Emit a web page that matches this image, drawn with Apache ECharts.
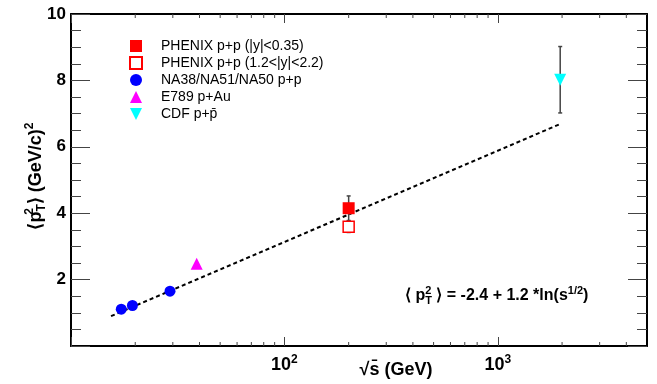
<!DOCTYPE html>
<html>
<head>
<meta charset="utf-8">
<script src="https://cdn.jsdelivr.net/npm/echarts@6/dist/echarts.min.js"></script>
</head>
<body style="margin:0">
<div id="container" style="width:657px;height:384px"></div>
<script>
// values
var phenixMidX = [200], phenixMidY = [4.15], phenixMidErr = [0.37];
var phenixFwdX = [200], phenixFwdY = [3.59], phenixFwdErr = [0.17];
var naX = [17.2, 19.4, 29.1], naY = [1.11, 1.22, 1.65];
var e789X = [38.8], e789Y = [2.48];
var cdfX = [1960], cdfY = [8.02], cdfErr = [1.0];
// dashed fit <pT2> = -2.4 + 1.2 ln(sqrt s), straight on a log axis: two ends
var fitX = [15.4, 1950], fitY = [0.90, 6.68];
var xMajorTicks = [10, 100, 1000];
var xLabelTicks = [100, 1000];
var xMinorTicks = [20, 30, 40, 50, 60, 70, 80, 90, 200, 300, 400, 500, 600, 700, 800, 900, 2000, 3000, 4000];

var F = "'Liberation Sans', Arial, Helvetica, sans-serif";
var downTriangle = 'path://M0,0L12,0L6,12Z';

function zip(xs, ys, es) {
    return xs.map(function (x, i) { return es ? [x, ys[i], es[i]] : [x, ys[i]]; });
}

function renderErr(params, api) {
    var x = api.value(0), y = api.value(1), e = api.value(2);
    var t = api.coord([x, y + e]);
    var b = api.coord([x, y - e]);
    var st = {stroke: '#444', lineWidth: 1.5};
    return {type: 'group', children: [
        {type: 'line', shape: {x1: t[0], y1: t[1], x2: b[0], y2: b[1]}, style: st},
        {type: 'line', shape: {x1: t[0] - 2, y1: t[1], x2: t[0] + 2, y2: t[1]}, style: st},
        {type: 'line', shape: {x1: b[0] - 2, y1: b[1], x2: b[0] + 2, y2: b[1]}, style: st}
    ]};
}

function renderMinor(params, api) {
    var v = api.value(0);
    var b = api.coord([v, 0]);
    var t = api.coord([v, 10]);
    var st = {stroke: '#444', lineWidth: 1};
    return {type: 'group', children: [
        {type: 'line', shape: {x1: b[0], y1: b[1], x2: b[0], y2: b[1] - 4}, style: st},
        {type: 'line', shape: {x1: t[0], y1: t[1], x2: t[0], y2: t[1] + 4}, style: st}
    ]};
}

var subRich = {
    b: {fontSize: 18, fontWeight: 'bold', fontFamily: F, lineHeight: 24},
    s0: {fontSize: 12, fontWeight: 'bold', fontFamily: F, lineHeight: 12, verticalAlign: 'top', width: 0},
    sub: {fontSize: 12, fontWeight: 'bold', fontFamily: F, lineHeight: 12, verticalAlign: 'bottom'},
    sup: {fontSize: 12, fontWeight: 'bold', fontFamily: F, lineHeight: 12, verticalAlign: 'top'}
};
var fRich = {
    b: {fontSize: 16, fontWeight: 'bold', fontFamily: F, lineHeight: 21},
    s0: {fontSize: 11, fontWeight: 'bold', fontFamily: F, lineHeight: 11, verticalAlign: 'top', width: 0},
    sub: {fontSize: 11, fontWeight: 'bold', fontFamily: F, lineHeight: 11, verticalAlign: 'bottom'},
    sup: {fontSize: 11, fontWeight: 'bold', fontFamily: F, lineHeight: 11, verticalAlign: 'top'}
};

function xAxisDef(pos, showLabel) {
    return {
        type: 'log', logBase: 10, min: 10, max: 5000, position: pos,
        axisLine: {show: true, onZero: false, lineStyle: {color: '#000', width: 2}},
        axisTick: {show: true, inside: true, length: 9, customValues: xMajorTicks, lineStyle: {color: '#444', width: 1}},
        splitLine: {show: false},
        axisLabel: {
            show: showLabel, margin: 8, color: '#000',
            customValues: xLabelTicks,
            formatter: function (v) {
                return '{b|10}{sup|' + Math.round(Math.log10(v)) + '}';
            },
            rich: {
                b: {fontSize: 18, fontWeight: 'bold', fontFamily: F, lineHeight: 22, color: '#000'},
                sup: {fontSize: 12, fontWeight: 'bold', fontFamily: F, lineHeight: 12, verticalAlign: 'top', color: '#000'}
            }
        }
    };
}

function yAxisDef(pos, showLabel) {
    return {
        type: 'value', min: 0, max: 10, interval: 2, position: pos,
        axisLine: {show: true, onZero: false, lineStyle: {color: '#000', width: 2}},
        axisTick: {show: true, inside: true, length: 19, lineStyle: {color: '#444', width: 1}},
        minorTick: {show: true, splitNumber: 4, length: 10, lineStyle: {color: '#444', width: 1}},
        splitLine: {show: false},
        minorSplitLine: {show: false},
        axisLabel: {
            show: showLabel, margin: 5, color: '#000', fontSize: 17, fontWeight: 'bold', fontFamily: F,
            showMaxLabel: true,
            formatter: function (v) { return v === 0 ? '' : String(v); }
        }
    };
}

var names = ['PHENIX p+p (|y|<0.35)', 'PHENIX p+p (1.2<|y|<2.2)', 'NA38/NA51/NA50 p+p', 'E789 p+Au', 'CDF p+p\u0304'];

var myChart = echarts.init(document.getElementById('container'));
var option = {
    backgroundColor: '#fff',
    animation: false,
    grid: {left: 71, right: 10, top: 14, bottom: 38, outerBoundsMode: 'none', containLabel: false},
    xAxis: [xAxisDef('bottom', true), xAxisDef('top', false)],
    yAxis: [yAxisDef('left', true), yAxisDef('right', false)],
    legend: {
        orient: 'vertical', left: 129, top: 39, padding: 0,
        itemWidth: 12, itemHeight: 12, itemGap: 3,
        textStyle: {fontSize: 14, color: '#000', fontFamily: F, padding: [0, 0, 0, 14]},
        data: [
            {name: names[0]},
            {name: names[1]},
            {name: names[2]},
            {name: names[3]},
            {name: names[4], icon: downTriangle}
        ]
    },
    graphic: [
        {type: 'text', x: 36, y: 176, rotation: Math.PI / 2,
         style: {text: '{b|\u27e8p}{s0|2}{sub|T}{b|\u27e9 (GeV/c)}{sup|2}', align: 'center', verticalAlign: 'middle', fill: '#000', rich: subRich}},
        {type: 'text', x: 396, y: 370,
         style: {text: '\u221as\u0304 (GeV)', align: 'center', verticalAlign: 'middle', fill: '#000', font: 'bold 18px ' + F}},
        {type: 'text', x: 405, y: 296,
         style: {text: '{b|\u27e8 p}{s0|2}{sub|T}{b| \u27e9 = -2.4 + 1.2 *ln(s}{sup|1/2}{b|)}', align: 'left', verticalAlign: 'middle', fill: '#000', rich: fRich}}
    ],
    series: [
        {type: 'custom', name: 'minor', renderItem: renderMinor, data: xMinorTicks.map(function (v) { return [v, 0]; }), z: 1, silent: true, clip: false},
        {type: 'line', name: 'fit', data: zip(fitX, fitY), symbol: 'none', z: 2,
         lineStyle: {color: '#000', width: 2, type: [4, 3]}},
        {type: 'custom', name: 'err', renderItem: renderErr, z: 3, silent: true,
         data: zip(phenixMidX, phenixMidY, phenixMidErr).concat(zip(phenixFwdX, phenixFwdY, phenixFwdErr), zip(cdfX, cdfY, cdfErr))},
        {type: 'scatter', name: names[0], data: zip(phenixMidX, phenixMidY), symbol: 'rect', symbolSize: 12, z: 5,
         itemStyle: {color: '#ff0000', opacity: 1}},
        {type: 'scatter', name: names[1], data: zip(phenixFwdX, phenixFwdY), symbol: 'rect', symbolSize: 11, z: 5,
         itemStyle: {color: '#ffffff', borderColor: '#ff0000', borderWidth: 1.5, opacity: 1}},
        {type: 'scatter', name: names[2], data: zip(naX, naY), symbol: 'circle', symbolSize: 11, z: 5,
         itemStyle: {color: '#0000ff', opacity: 1}},
        {type: 'scatter', name: names[3], data: zip(e789X, e789Y), symbol: 'triangle', symbolSize: 12, z: 5,
         itemStyle: {color: '#ff00ff', opacity: 1}},
        {type: 'scatter', name: names[4], data: zip(cdfX, cdfY), symbol: downTriangle, symbolSize: 12, z: 5,
         itemStyle: {color: '#00ffff', opacity: 1}}
    ]
};
myChart.setOption(option);
</script>
</body>
</html>
